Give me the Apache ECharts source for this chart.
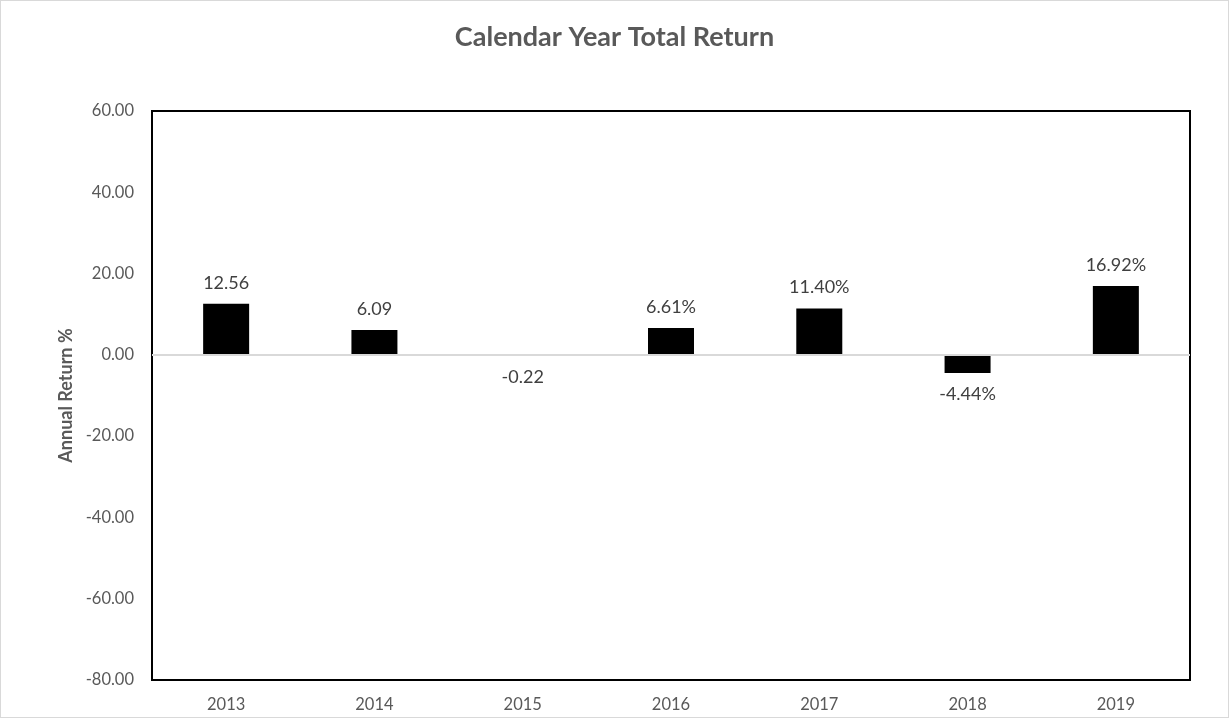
<!DOCTYPE html>
<html>
<head>
<meta charset="utf-8">
<script src="https://cdn.jsdelivr.net/npm/echarts@6/dist/echarts.min.js"></script>
<style>
html,body{margin:0;padding:0;background:#fff;}
#chart{width:1229px;height:718px;box-sizing:border-box;border:1px solid #d9d9d9;}
</style>
</head>
<body>
<div id="chart"></div>
<script>
const categories = ['2013','2014','2015','2016','2017','2018','2019'];
const returns = [12.56, 6.09, -0.22, 6.61, 11.40, -4.44, 16.92];
const labelTexts = ['12.56','6.09','-0.22','6.61%','11.40%','-4.44%','16.92%'];
const yTicks = [-80, -60, -40, -20, 0, 20, 40, 60];

const font = 'Lato, "Open Sans", sans-serif';
const chart = echarts.init(document.getElementById('chart'), null, {renderer:'canvas'});
chart.setOption({
  backgroundColor: '#fff',
  animation: false,
  title: {
    text: 'Calendar Year Total Return',
    left: 'center',
    top: 18,
    textStyle: {fontFamily: font, fontSize: 27, fontWeight: 'bold', color: '#595959'}
  },
  grid: {
    left: 151, right: 38, top: 110, bottom: 37,
    show: true, borderColor: '#000', borderWidth: 2, backgroundColor: '#fff'
  },
  xAxis: {
    type: 'category',
    data: categories,
    axisLine: {show: false},
    axisTick: {show: false},
    axisLabel: {fontFamily: font, fontSize: 16.5, color: '#595959', margin: 16}
  },
  yAxis: {
    type: 'value',
    min: yTicks[0], max: yTicks[yTicks.length-1], interval: 20,
    name: 'Annual Return %',
    nameLocation: 'middle',
    nameGap: 76,
    nameTextStyle: {fontFamily: font, fontSize: 18, fontWeight: 'bold', color: '#595959'},
    axisLine: {show: false},
    axisTick: {show: false},
    splitLine: {show: false},
    axisLabel: {
      fontFamily: font, fontSize: 16.5, color: '#595959', margin: 18,
      formatter: v => v.toFixed(2)
    }
  },
  series: [{
    type: 'bar',
    data: returns.map((v, i) => ({
      value: v,
      label: {position: v >= 0 ? 'top' : 'bottom'}
    })),
    barWidth: 46,
    itemStyle: {color: '#000'},
    label: {
      show: true,
      distance: 12,
      fontFamily: font, fontSize: 18, color: '#404040',
      formatter: p => labelTexts[p.dataIndex]
    },
    markLine: {
      silent: true,
      symbol: 'none',
      label: {show: false},
      lineStyle: {color: '#d9d9d9', width: 2, type: 'solid'},
      data: [{yAxis: 0}]
    },
    z: 3
  }]
});
</script>
</body>
</html>
